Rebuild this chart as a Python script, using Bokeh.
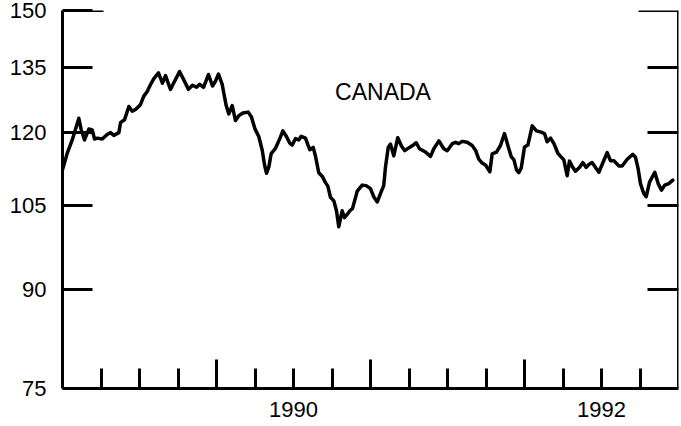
from bokeh.plotting import figure
from bokeh.models import (LogAxis, LinearAxis, FixedTicker, BasicTickFormatter,
                          CustomJSTickFormatter, Label, ColumnDataSource, Range1d)
from bokeh.embed import file_html
from bokeh.resources import INLINE

# ---- data ----
dates = [
    1989.000, 1989.031, 1989.063, 1989.084, 1989.106, 1989.121, 1989.143, 1989.171,
    1989.193, 1989.208, 1989.225, 1989.258, 1989.290, 1989.312, 1989.333, 1989.366,
    1989.377, 1989.403, 1989.431, 1989.453, 1989.474, 1989.506, 1989.528, 1989.550,
    1989.571, 1989.593, 1989.623, 1989.649, 1989.669, 1989.701, 1989.727, 1989.760,
    1989.786, 1989.818, 1989.844, 1989.870, 1989.890, 1989.916, 1989.948, 1989.974,
    1989.994, 1990.013, 1990.037, 1990.047, 1990.063, 1990.080, 1990.102, 1990.123,
    1990.145, 1990.171, 1990.206, 1990.227, 1990.249, 1990.275, 1990.297, 1990.312,
    1990.325, 1990.340, 1990.355, 1990.383, 1990.411, 1990.431, 1990.455, 1990.476,
    1990.492, 1990.513, 1990.534, 1990.550, 1990.578, 1990.593, 1990.606, 1990.628,
    1990.643, 1990.664, 1990.686, 1990.708, 1990.723, 1990.740, 1990.762, 1990.779,
    1990.794, 1990.816, 1990.831, 1990.849, 1990.866, 1990.883, 1990.914, 1990.946,
    1990.972, 1991.000, 1991.021, 1991.044, 1991.071, 1991.086, 1991.097, 1991.115,
    1991.130, 1991.151, 1991.177, 1991.201, 1991.223, 1991.253, 1991.273, 1991.297,
    1991.318, 1991.357, 1991.390, 1991.411, 1991.444, 1991.476, 1991.498, 1991.531,
    1991.552, 1991.573, 1991.595, 1991.628, 1991.660, 1991.682, 1991.703, 1991.725,
    1991.747, 1991.775, 1991.790, 1991.818, 1991.844, 1991.870, 1991.892, 1991.914,
    1991.931, 1991.948, 1991.963, 1991.979, 1992.000, 1992.022, 1992.050, 1992.078,
    1992.108, 1992.130, 1992.147, 1992.169, 1992.190, 1992.216, 1992.234, 1992.255,
    1992.277, 1992.292, 1992.310, 1992.331, 1992.357, 1992.379, 1992.401, 1992.418,
    1992.439, 1992.461, 1992.483, 1992.504, 1992.537, 1992.558, 1992.580, 1992.612,
    1992.634, 1992.667, 1992.703, 1992.721, 1992.738, 1992.753, 1992.775, 1992.790,
    1992.812, 1992.846, 1992.868, 1992.890, 1992.911, 1992.937, 1992.963,
]
index_values = [
    112.0, 115.5, 118.3, 120.6, 123.1, 120.6, 118.3, 120.7,
    120.5, 118.5, 118.7, 118.5, 119.5, 119.9, 119.3, 119.9,
    122.1, 122.8, 125.8, 124.7, 125.1, 126.2, 128.2, 129.3,
    130.9, 132.4, 133.8, 131.3, 133.1, 129.8, 131.7, 134.1,
    132.2, 129.8, 130.8, 130.3, 131.0, 130.3, 133.4, 130.6,
    131.8, 133.5, 131.0, 129.0, 126.0, 124.1, 126.0, 122.6,
    123.7, 124.3, 124.5, 123.4, 120.8, 119.0, 116.1, 113.0,
    111.3, 112.6, 115.4, 116.5, 118.6, 120.3, 119.0, 117.6,
    117.2, 118.6, 118.3, 119.1, 118.7, 117.3, 116.2, 116.7,
    114.8, 111.4, 110.7, 109.4, 108.7, 106.5, 105.8, 103.9,
    100.9, 103.9, 102.6, 103.2, 103.9, 104.3, 107.7, 108.9,
    108.8, 108.2, 106.6, 105.6, 107.7, 108.8, 112.5, 116.7,
    117.4, 114.9, 118.8, 117.0, 116.0, 116.7, 117.1, 117.7,
    116.4, 115.7, 114.8, 116.4, 118.1, 116.4, 116.0, 117.5,
    117.8, 117.5, 118.0, 117.8, 117.1, 116.1, 114.2, 113.4,
    113.0, 111.6, 115.3, 115.7, 117.1, 119.7, 117.1, 114.7,
    114.1, 112.0, 111.4, 112.4, 116.8, 117.2, 121.4, 120.3,
    120.0, 119.7, 117.9, 118.7, 117.6, 115.5, 114.8, 114.1,
    110.8, 113.8, 112.7, 111.7, 112.5, 113.5, 112.5, 113.1,
    113.5, 112.5, 111.5, 113.1, 115.6, 113.9, 113.9, 112.8,
    112.8, 114.2, 115.2, 114.6, 112.2, 109.2, 107.2, 106.6,
    109.5, 111.5, 109.2, 107.9, 108.9, 109.2, 109.9,
]
y_ticks = [75, 90, 105, 120, 135, 150]
inner_y_ticks = [90, 105, 120, 135]
top_tick = [150]
year_ticks = [1990, 1991, 1992]
quarter_ticks = [1989.25, 1989.5, 1989.75, 1990.25, 1990.5, 1990.75,
                 1991.25, 1991.5, 1991.75, 1992.25, 1992.5, 1992.75]
year_label_positions = [1990.5, 1992.5]
year_labels = ["1990", "1992"]
country = "CANADA"

FONT = "Liberation Sans"

p = figure(width=681, height=426, output_backend="svg", toolbar_location=None,
           x_range=Range1d(1989, 1993), y_range=Range1d(75, 150),
           y_axis_type="log", x_axis_location=None, y_axis_location=None,
           min_border_left=62, min_border_right=3, min_border_top=10,
           min_border_bottom=38)
p.outline_line_color = None
p.background_fill_color = "white"
p.border_fill_color = "white"
p.xgrid.grid_line_color = None
p.ygrid.grid_line_color = None


def no_labels():
    return CustomJSTickFormatter(code="return ''")


def tick_axis(ticks, location, tick_in, tick_out):
    return LogAxis(ticker=FixedTicker(ticks=ticks), formatter=no_labels(),
                   fixed_location=location, axis_line_color=None,
                   major_tick_line_width=3, major_tick_line_color="black",
                   major_tick_in=tick_in, major_tick_out=tick_out,
                   minor_tick_in=0, minor_tick_out=0)


# left axis: line, inward ticks and labels
left = LogAxis(ticker=FixedTicker(ticks=y_ticks), formatter=BasicTickFormatter(),
               axis_line_width=3, axis_line_color="black",
               major_tick_line_width=3, major_tick_line_color="black",
               major_tick_in=30, major_tick_out=0, minor_tick_in=0, minor_tick_out=0,
               major_label_standoff=16, major_label_text_font=FONT,
               major_label_text_font_size="22px", major_label_text_color="black")
p.add_layout(left, "left")
# longer top tick on the left
p.add_layout(tick_axis(top_tick, 1989, 41, 0), "left")

# right axis line and ticks
right = LogAxis(ticker=FixedTicker(ticks=inner_y_ticks), formatter=no_labels(),
                fixed_location=1993, axis_line_width=3, axis_line_color="black",
                major_tick_line_width=3, major_tick_line_color="black",
                major_tick_in=31, major_tick_out=0, minor_tick_in=0, minor_tick_out=0)
p.add_layout(right, "right")
p.add_layout(tick_axis(top_tick, 1993, 40, 0), "right")

# bottom: axis line and year labels centred on each year
bottom = LinearAxis(ticker=FixedTicker(ticks=year_label_positions),
                    major_label_overrides=dict(zip(year_label_positions, year_labels)),
                    axis_line_width=3, axis_line_color="black",
                    major_tick_line_color=None, major_tick_in=0, major_tick_out=0,
                    minor_tick_in=0, minor_tick_out=0,
                    major_label_standoff=13, major_label_text_font=FONT,
                    major_label_text_font_size="22px", major_label_text_color="black")
p.add_layout(bottom, "below")
# bottom: inward year / quarter ticks
bottom_ticks = LinearAxis(ticker=FixedTicker(ticks=year_ticks, minor_ticks=quarter_ticks),
                          formatter=no_labels(), fixed_location=75, axis_line_color=None,
                          major_tick_line_width=3, major_tick_line_color="black",
                          minor_tick_line_width=3, minor_tick_line_color="black",
                          major_tick_in=29, major_tick_out=0,
                          minor_tick_in=20, minor_tick_out=0)
p.add_layout(bottom_ticks, "below")

src = ColumnDataSource(data=dict(t=dates, v=index_values))
p.line(x="t", y="v", source=src, line_width=3.5, line_color="black",
       line_join="round", line_cap="round")

p.add_layout(Label(x=1990.77, y=129.2, text=country, text_font=FONT,
                   text_font_size="23px", text_color="black",
                   text_baseline="alphabetic", text_align="left"))

open("out.html", "w").write(file_html(p, INLINE))
